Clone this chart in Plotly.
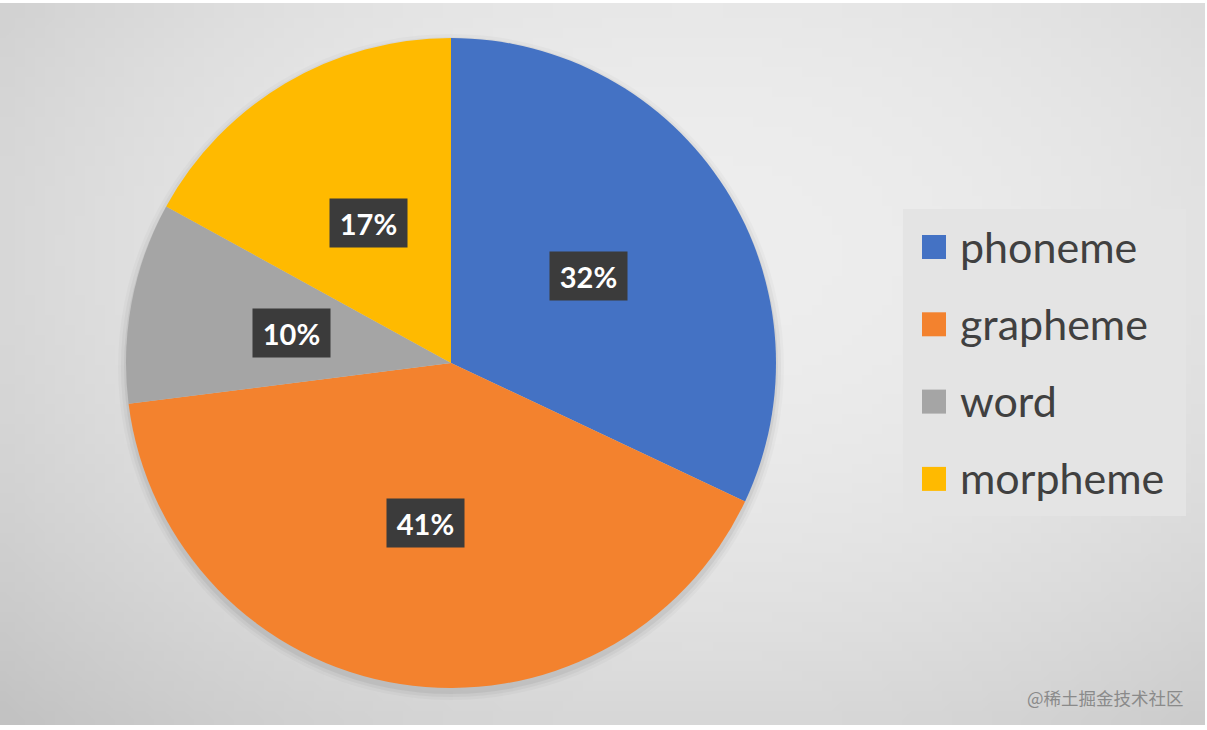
import base64
import math
import struct
import zlib

import numpy as np
import plotly.graph_objects as go

# Datos
categorias = ["phoneme", "grapheme", "word", "morpheme"]
porcentajes = [32, 41, 10, 17]
colores = ["#4472C4", "#F3822E", "#A5A5A5", "#FFBA00"]
marca_agua = "@稀土掘金技术社区"

ANCHO, ALTO = 1207, 730
CX, CY, R = 451, 363, 325  # centro y radio del pastel en píxeles


def fondo_degradado(w=121, h=73):
    """PNG pequeño con degradado radial gris (se estira en el navegador)"""
    ys, xs = np.mgrid[0:h, 0:w]
    dx = (xs / (w - 1) * ANCHO - 700) / 700
    dy = (ys / (h - 1) * ALTO - 250) / 480
    v = np.clip(238 - 22 * (dx ** 2 + dy ** 2), 0, 255).astype(np.uint8)
    filas = b"".join(b"\x00" + bytes(np.repeat(fila, 3)) for fila in v)

    def chunk(tipo, datos):
        c = tipo + datos
        return struct.pack(">I", len(datos)) + c + struct.pack(">I", zlib.crc32(c) & 0xFFFFFFFF)

    png = b"\x89PNG\r\n\x1a\n"
    png += chunk(b"IHDR", struct.pack(">IIBBBBB", w, h, 8, 2, 0, 0, 0))
    png += chunk(b"IDAT", zlib.compress(filas, 9))
    png += chunk(b"IEND", b"")
    return "data:image/png;base64," + base64.b64encode(png).decode()


def dominio(radio, bajada=0):
    return dict(x=[(CX - radio) / ANCHO, (CX + radio) / ANCHO],
                y=[1 - (CY + bajada + radio) / ALTO, 1 - (CY + bajada - radio) / ALTO])


fig = go.Figure()

# Sombra suave del pastel
for extra, alpha in [(8, 0.025), (5, 0.035), (2, 0.05)]:
    fig.add_trace(go.Pie(
        values=[1], marker=dict(colors=[f"rgba(0,0,0,{alpha})"], line=dict(width=0)),
        textinfo="none", hoverinfo="skip", showlegend=False, sort=False,
        domain=dominio(R + extra, bajada=4),
    ))

fig.add_trace(go.Pie(
    labels=categorias,
    values=porcentajes,
    marker=dict(colors=colores, line=dict(width=0)),
    sort=False,
    direction="clockwise",
    rotation=0,
    textinfo="none",
    hoverinfo="label+percent",
    showlegend=False,
    domain=dominio(R),
))

# Etiquetas de porcentaje en cajas oscuras, en el ángulo medio de cada sector
anotaciones = []
total = sum(porcentajes)
acumulado = 0
for valor in porcentajes:
    medio = (acumulado + valor / 2) / total * 2 * math.pi
    acumulado += valor
    px_ = CX + 0.5 * R * math.sin(medio)
    py_ = CY - 0.5 * R * math.cos(medio)
    anotaciones.append(dict(
        x=px_ / ANCHO, y=1 - py_ / ALTO, xref="paper", yref="paper",
        xanchor="center", yanchor="middle",
        text=f"<b>{round(valor / total * 100)}%</b>",
        showarrow=False, bgcolor="#3B3B3B", width=77, height=48, borderpad=0,
        font=dict(family="Lato", size=29, color="white"),
    ))

# Leyenda dibujada a mano (espaciado amplio como en el original)
formas = [dict(type="rect", xref="paper", yref="paper",
               x0=903 / ANCHO, x1=1186 / ANCHO, y0=1 - 516 / ALTO, y1=1 - 209 / ALTO,
               fillcolor="#E4E4E4", line=dict(width=0), layer="above")]
for i, (nombre, color) in enumerate(zip(categorias, colores)):
    yc = 247 + i * 77.3
    formas.append(dict(type="rect", xref="paper", yref="paper",
                       x0=922 / ANCHO, x1=946 / ANCHO,
                       y0=1 - (yc + 12) / ALTO, y1=1 - (yc - 12) / ALTO,
                       fillcolor=color, line=dict(width=0), layer="above"))
    anotaciones.append(dict(
        x=958 / ANCHO, y=1 - (yc - 1) / ALTO, xref="paper", yref="paper",
        xanchor="left", yanchor="middle", text=nombre, showarrow=False,
        font=dict(family="Lato", size=43, color="#404040"),
    ))

anotaciones.append(dict(
    x=1186 / ANCHO, y=1 - 697 / ALTO, xref="paper", yref="paper",
    xanchor="right", yanchor="middle", text=marca_agua, showarrow=False,
    font=dict(family="Noto Sans CJK SC", size=17.5, color="#8A8A8A"),
))

fig.update_layout(
    width=ANCHO, height=ALTO,
    margin=dict(l=0, r=0, t=0, b=0),
    paper_bgcolor="white",
    showlegend=False,
    shapes=formas,
    annotations=anotaciones,
    images=[dict(source=fondo_degradado(), xref="paper", yref="paper",
                 x=0, y=1 - 3 / ALTO, sizex=1205 / ANCHO, sizey=722 / ALTO,
                 xanchor="left", yanchor="top", sizing="stretch", layer="below")],
)

fig.write_html("out.html", config={"displayModeBar": False},
               post_script="document.body.style.margin='0';")
